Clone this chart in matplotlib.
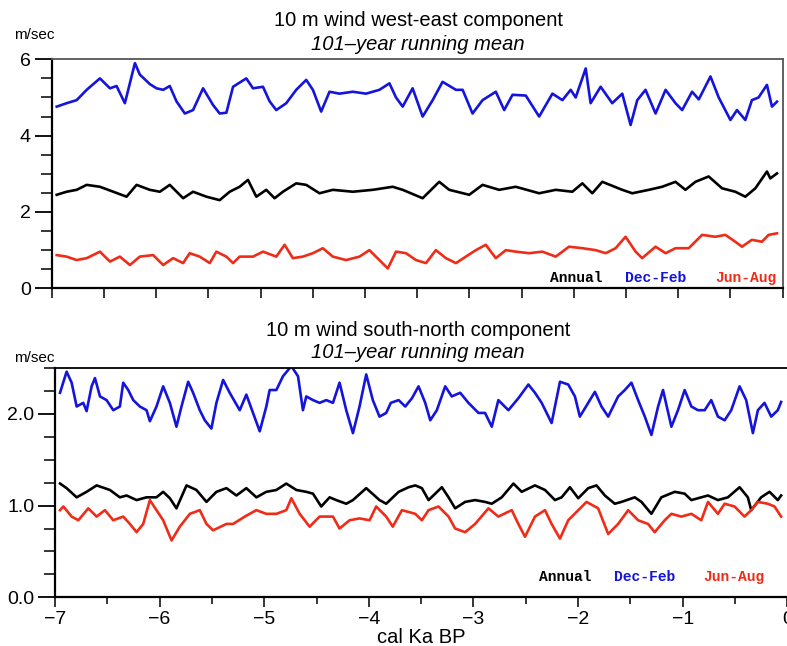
import matplotlib
matplotlib.use("Agg")
import matplotlib.pyplot as plt
from matplotlib.ticker import MultipleLocator

# ---------------- data ----------------
# Top panel: 10 m wind west-east component (m/sec), x in cal ka BP
we_djf_x = [-6.952, -6.857, -6.761, -6.665, -6.538, -6.442, -6.379, -6.299, -6.203, -6.156,
            -6.06, -5.996, -5.932, -5.869, -5.805, -5.725, -5.646, -5.55, -5.454, -5.391,
            -5.327, -5.263, -5.136, -5.072, -4.976, -4.913, -4.849, -4.753, -4.658, -4.562,
            -4.498, -4.419, -4.339, -4.243, -4.116, -3.989, -3.861, -3.765, -3.702, -3.638,
            -3.543, -3.447, -3.351, -3.256, -3.128, -3.064, -2.969, -2.873, -2.746, -2.666,
            -2.586, -2.459, -2.331, -2.204, -2.108, -2.029, -1.981, -1.885, -1.838, -1.742,
            -1.631, -1.535, -1.455, -1.391, -1.312, -1.216, -1.120, -1.025, -0.961, -0.866,
            -0.802, -0.69, -0.611, -0.499, -0.436, -0.356, -0.293, -0.229, -0.149, -0.101, -0.053]
we_djf_y = [4.76, 4.85, 4.93, 5.2, 5.5, 5.24, 5.3, 4.85, 5.9, 5.6,
            5.35, 5.24, 5.2, 5.3, 4.9, 4.58, 4.67, 5.24, 4.8, 4.58,
            4.6, 5.28, 5.5, 5.24, 5.28, 4.9, 4.67, 4.85, 5.2, 5.46,
            5.2, 4.63, 5.15, 5.1, 5.15, 5.1, 5.2, 5.37, 5.0, 4.76,
            5.24, 4.5, 4.93, 5.41, 5.2, 5.2, 4.58, 4.93, 5.15, 4.67,
            5.07, 5.05, 4.5, 5.1, 4.93, 5.2, 5.0, 5.76, 4.85, 5.28,
            4.85, 5.1, 4.28, 4.93, 5.2, 4.58, 5.2, 4.85, 4.67, 5.15,
            4.95, 5.55, 5.0, 4.41, 4.67, 4.41, 4.93, 5.0, 5.33, 4.76, 4.89]

we_ann_x = [-6.952, -6.857, -6.761, -6.665, -6.538, -6.41, -6.283, -6.187, -6.06, -5.964,
            -5.869, -5.741, -5.646, -5.518, -5.391, -5.295, -5.2, -5.12, -5.04, -4.945,
            -4.865, -4.785, -4.658, -4.562, -4.435, -4.307, -4.116, -3.925, -3.734, -3.638,
            -3.447, -3.288, -3.192, -3.001, -2.873, -2.714, -2.555, -2.331, -2.172, -2.013,
            -1.917, -1.822, -1.726, -1.535, -1.439, -1.28, -1.153, -1.025, -0.93, -0.834,
            -0.707, -0.579, -0.452, -0.356, -0.26, -0.149, -0.117, -0.053]
we_ann_y = [2.45, 2.53, 2.58, 2.71, 2.66, 2.53, 2.40, 2.71, 2.58, 2.53,
            2.71, 2.36, 2.53, 2.40, 2.31, 2.53, 2.66, 2.84, 2.40, 2.58,
            2.36, 2.53, 2.75, 2.71, 2.49, 2.58, 2.53, 2.58, 2.66, 2.58,
            2.36, 2.79, 2.58, 2.45, 2.71, 2.58, 2.66, 2.49, 2.58, 2.53,
            2.75, 2.49, 2.79, 2.58, 2.49, 2.58, 2.66, 2.79, 2.58, 2.79,
            2.93, 2.62, 2.53, 2.40, 2.62, 3.06, 2.88, 3.01]

we_jja_x = [-6.952, -6.857, -6.761, -6.665, -6.538, -6.442, -6.347, -6.251, -6.156, -6.028,
            -5.932, -5.837, -5.741, -5.678, -5.582, -5.486, -5.423, -5.327, -5.263, -5.2,
            -5.072, -4.976, -4.849, -4.769, -4.69, -4.594, -4.498, -4.403, -4.307, -4.18,
            -4.052, -3.957, -3.861, -3.781, -3.702, -3.606, -3.511, -3.415, -3.32, -3.224,
            -3.128, -3.033, -2.937, -2.842, -2.746, -2.65, -2.555, -2.427, -2.3, -2.172,
            -2.045, -1.917, -1.79, -1.694, -1.599, -1.503, -1.407, -1.344, -1.216, -1.12,
            -1.025, -0.898, -0.77, -0.643, -0.547, -0.452, -0.388, -0.293, -0.197, -0.133, -0.053]
we_jja_y = [0.87, 0.83, 0.74, 0.79, 0.96, 0.70, 0.83, 0.61, 0.83, 0.87,
            0.61, 0.79, 0.66, 0.92, 0.83, 0.66, 0.96, 0.83, 0.66, 0.83,
            0.83, 0.96, 0.83, 1.14, 0.79, 0.83, 0.92, 1.05, 0.83, 0.74,
            0.83, 1.0, 0.74, 0.52, 0.96, 0.92, 0.74, 0.66, 1.0, 0.79,
            0.66, 0.83, 1.0, 1.14, 0.79, 1.0, 0.96, 0.92, 0.96, 0.83,
            1.09, 1.05, 1.0, 0.92, 1.05, 1.35, 0.96, 0.79, 1.09, 0.92,
            1.05, 1.05, 1.40, 1.35, 1.40, 1.22, 1.09, 1.27, 1.22, 1.40, 1.44]

# Bottom panel: 10 m wind south-north component (m/sec)
sn_djf_x = [-6.952, -6.889, -6.841, -6.793, -6.73, -6.698, -6.65, -6.618, -6.57, -6.507,
            -6.443, -6.38, -6.348, -6.3, -6.252, -6.189, -6.125, -6.093, -6.03, -5.966,
            -5.902, -5.839, -5.791, -5.727, -5.68, -5.616, -5.568, -5.505, -5.457, -5.393,
            -5.33, -5.234, -5.171, -5.107, -5.043, -4.98, -4.948, -4.884, -4.821, -4.741,
            -4.677, -4.63, -4.598, -4.534, -4.471, -4.407, -4.343, -4.28, -4.216, -4.152,
            -4.089, -4.025, -3.962, -3.898, -3.834, -3.79, -3.715, -3.652, -3.588, -3.525,
            -3.461, -3.413, -3.35, -3.27, -3.207, -3.127, -3.048, -2.952, -2.889, -2.825,
            -2.762, -2.666, -2.571, -2.475, -2.412, -2.348, -2.253, -2.173, -2.094, -2.03,
            -1.983, -1.903, -1.839, -1.776, -1.712, -1.617, -1.553, -1.49, -1.426, -1.362,
            -1.299, -1.235, -1.188, -1.108, -1.045, -0.981, -0.917, -0.854, -0.79, -0.727,
            -0.663, -0.599, -0.536, -0.456, -0.393, -0.329, -0.281, -0.218, -0.154, -0.091, -0.059]
sn_djf_y = [2.23, 2.46, 2.34, 2.08, 2.12, 2.03, 2.30, 2.39, 2.19, 2.15,
            2.04, 2.08, 2.34, 2.26, 2.15, 2.08, 2.04, 1.92, 2.08, 2.30,
            2.12, 1.86, 2.08, 2.35, 2.23, 2.04, 1.93, 1.84, 2.12, 2.37,
            2.23, 2.04, 2.21, 2.01, 1.81, 2.08, 2.26, 2.26, 2.41, 2.52,
            2.41, 2.04, 2.19, 2.15, 2.12, 2.15, 2.12, 2.34, 2.04, 1.79,
            2.08, 2.43, 2.15, 1.97, 2.01, 2.12, 2.15, 2.08, 2.17, 2.30,
            2.12, 1.93, 2.04, 2.30, 2.19, 2.23, 2.12, 2.01, 2.01, 1.86,
            2.15, 2.04, 2.17, 2.32, 2.23, 2.12, 1.90, 2.35, 2.32, 2.19,
            1.97, 2.12, 2.24, 2.08, 1.97, 2.19, 2.26, 2.34, 2.15, 1.97,
            1.77, 2.08, 2.26, 1.86, 2.04, 2.26, 2.08, 2.04, 2.04, 2.15,
            1.97, 1.93, 2.04, 2.30, 2.15, 1.79, 2.04, 2.12, 1.97, 2.04, 2.13]

sn_ann_x = [-6.952, -6.889, -6.793, -6.698, -6.602, -6.475, -6.38, -6.316, -6.22, -6.125,
            -6.03, -5.966, -5.902, -5.839, -5.743, -5.648, -5.552, -5.457, -5.361, -5.266,
            -5.171, -5.075, -4.98, -4.884, -4.789, -4.693, -4.598, -4.534, -4.455, -4.375,
            -4.312, -4.216, -4.152, -4.025, -3.898, -3.834, -3.715, -3.62, -3.556, -3.493,
            -3.429, -3.302, -3.238, -3.175, -3.079, -2.984, -2.889, -2.825, -2.73, -2.618,
            -2.539, -2.412, -2.316, -2.221, -2.157, -2.078, -1.998, -1.903, -1.824, -1.744,
            -1.649, -1.585, -1.458, -1.394, -1.299, -1.204, -1.076, -0.981, -0.917, -0.822,
            -0.758, -0.663, -0.568, -0.456, -0.377, -0.345, -0.25, -0.17, -0.091, -0.059]
sn_ann_y = [1.24, 1.19, 1.09, 1.15, 1.22, 1.17, 1.09, 1.11, 1.06, 1.09,
            1.09, 1.15, 1.08, 0.97, 1.22, 1.17, 1.04, 1.15, 1.19, 1.11,
            1.19, 1.09, 1.15, 1.17, 1.24, 1.17, 1.15, 1.13, 0.99, 1.09,
            1.06, 1.02, 1.06, 1.19, 1.06, 1.02, 1.15, 1.20, 1.22, 1.19,
            1.06, 1.20, 1.09, 0.97, 1.04, 1.06, 1.04, 1.02, 1.09, 1.24,
            1.15, 1.22, 1.17, 1.06, 1.09, 1.20, 1.08, 1.19, 1.22, 1.11,
            1.02, 1.04, 1.09, 1.04, 0.91, 1.09, 1.15, 1.13, 1.06, 1.09,
            1.11, 1.06, 1.09, 1.20, 1.09, 0.95, 1.09, 1.15, 1.06, 1.11]

sn_jja_x = [-6.952, -6.92, -6.841, -6.777, -6.682, -6.602, -6.523, -6.443, -6.348, -6.284,
            -6.22, -6.157, -6.093, -6.03, -5.966, -5.886, -5.807, -5.711, -5.616, -5.552,
            -5.489, -5.361, -5.298, -5.171, -5.075, -4.98, -4.884, -4.789, -4.741, -4.661,
            -4.566, -4.471, -4.343, -4.28, -4.184, -4.089, -3.993, -3.93, -3.834, -3.771,
            -3.684, -3.556, -3.493, -3.429, -3.334, -3.238, -3.175, -3.079, -2.984, -2.857,
            -2.762, -2.634, -2.571, -2.507, -2.412, -2.316, -2.253, -2.173, -2.094, -1.998,
            -1.919, -1.808, -1.712, -1.617, -1.521, -1.426, -1.331, -1.267, -1.172, -1.108,
            -1.013, -0.917, -0.822, -0.758, -0.663, -0.599, -0.504, -0.409, -0.345, -0.281,
            -0.186, -0.122, -0.059]
sn_jja_y = [0.95, 0.99, 0.88, 0.84, 0.97, 0.88, 0.95, 0.84, 0.88, 0.80,
            0.71, 0.80, 1.06, 0.95, 0.84, 0.62, 0.77, 0.91, 0.95, 0.80,
            0.73, 0.80, 0.80, 0.89, 0.95, 0.91, 0.91, 0.95, 1.08, 0.91,
            0.77, 0.88, 0.88, 0.75, 0.84, 0.86, 0.84, 0.99, 0.88, 0.77,
            0.95, 0.91, 0.84, 0.95, 0.99, 0.88, 0.75, 0.71, 0.80, 0.97,
            0.88, 0.95, 0.80, 0.66, 0.88, 0.95, 0.80, 0.64, 0.84, 0.95,
            1.04, 0.97, 0.69, 0.80, 0.95, 0.84, 0.80, 0.71, 0.84, 0.91,
            0.88, 0.91, 0.84, 1.04, 0.91, 1.02, 0.99, 0.88, 0.95, 1.04,
            1.02, 0.99, 0.88]

series_labels = ["Annual", "Dec-Feb", "Jun-Aug"]
top_title = ["10 m wind west-east component", "101\u2013year running mean"]
bot_title = ["10 m wind south-north component", "101\u2013year running mean"]
x_label = "cal Ka BP"
unit = "m/sec"

# ---------------- style ----------------
BLUE = "#1414dc"
RED = "#ee2c18"
BLACK = "#000000"
plt.rcParams["font.family"] = ["Liberation Sans", "DejaVu Sans"]

W, H = 787, 646
fig = plt.figure(figsize=(W / 100, H / 100), dpi=100)

def fx(px):
    return px / W

def fy(py):
    return 1 - py / H

ax1 = fig.add_axes([fx(51.7), fy(288.3), fx(782.5 - 51.7), (288.3 - 59.3) / H])
ax2 = fig.add_axes([fx(55.0), fy(597.3), fx(787.3 - 55.0), (597.3 - 368.0) / H])

lw = 1.9
ax1.plot(we_djf_x, we_djf_y, color=BLUE, lw=lw)
ax1.plot(we_ann_x, we_ann_y, color=BLACK, lw=lw)
ax1.plot(we_jja_x, we_jja_y, color=RED, lw=lw)

ax2.plot(sn_djf_x, sn_djf_y, color=BLUE, lw=lw)
ax2.plot(sn_ann_x, sn_ann_y, color=BLACK, lw=lw)
ax2.plot(sn_jja_x, sn_jja_y, color=RED, lw=lw)

TICK_FS = 14

# axes 1
ax1.set_xlim(-7, 0)
ax1.set_ylim(0, 6)
ax1.yaxis.set_major_locator(MultipleLocator(2))
ax1.yaxis.set_minor_locator(MultipleLocator(0.5))
ax1.xaxis.set_major_locator(MultipleLocator(1))
ax1.xaxis.set_minor_locator(MultipleLocator(0.5))
ax1.tick_params(axis="y", which="major", length=12, width=1.3, labelsize=TICK_FS, pad=3)
ax1.tick_params(axis="y", which="minor", length=8, width=1.1)
ax1.tick_params(axis="x", which="both", length=7, width=1.1, labelbottom=False)
for s in ["top", "right"]:
    ax1.spines[s].set_color("#555555")
    ax1.spines[s].set_linewidth(1.3)
for s in ["left", "bottom"]:
    ax1.spines[s].set_linewidth(1.6)

# axes 2
ax2.set_xlim(-7, 0)
ax2.set_ylim(0, 2.5)
ax2.yaxis.set_major_locator(MultipleLocator(1.0))
ax2.yaxis.set_minor_locator(MultipleLocator(0.25))
ax2.yaxis.set_major_formatter(plt.FormatStrFormatter("%.1f"))
ax2.xaxis.set_major_locator(MultipleLocator(1))
ax2.xaxis.set_minor_locator(MultipleLocator(0.5))
ax2.xaxis.set_major_formatter(plt.FuncFormatter(lambda v, p: f"{int(round(v))}".replace("-", "\u2212")))
ax2.tick_params(axis="y", which="major", length=12, width=1.3, labelsize=TICK_FS, pad=3)
ax2.tick_params(axis="y", which="minor", length=8, width=1.1)
ax2.tick_params(axis="x", which="major", length=7, width=1.1, labelsize=TICK_FS, pad=3)
ax2.tick_params(axis="x", which="minor", length=5, width=1.1)
ax2.spines["right"].set_visible(False)
ax2.spines["top"].set_linewidth(1.3)
for s in ["left", "bottom"]:
    ax2.spines[s].set_linewidth(1.6)
ax2.set_xlabel(x_label, fontsize=14.5, labelpad=0)

# titles and units
TITLE_FS = 14.5
fig.text(fx(419), fy(20), top_title[0], ha="center", va="center", fontsize=TITLE_FS)
fig.text(fx(418), fy(44), top_title[1], ha="center", va="center", fontsize=TITLE_FS, style="italic")
fig.text(fx(418), fy(331), bot_title[0], ha="center", va="center", fontsize=TITLE_FS)
fig.text(fx(418), fy(353), bot_title[1], ha="center", va="center", fontsize=TITLE_FS, style="italic")
fig.text(fx(14), fy(35), unit, ha="left", va="center", fontsize=11)
fig.text(fx(14), fy(358), unit, ha="left", va="center", fontsize=11)

# legend texts
mono = dict(family=["Liberation Mono", "DejaVu Sans Mono"], weight="bold", fontsize=10.5, va="center", ha="left")
colors = [BLACK, BLUE, RED]
for lab, c, px in zip(series_labels, colors, [550, 625, 715]):
    fig.text(fx(px), fy(278), lab, color=c, **mono)
for lab, c, px in zip(series_labels, colors, [539, 614, 703]):
    fig.text(fx(px), fy(577), lab, color=c, **mono)

fig.savefig("out.png", dpi=100)
